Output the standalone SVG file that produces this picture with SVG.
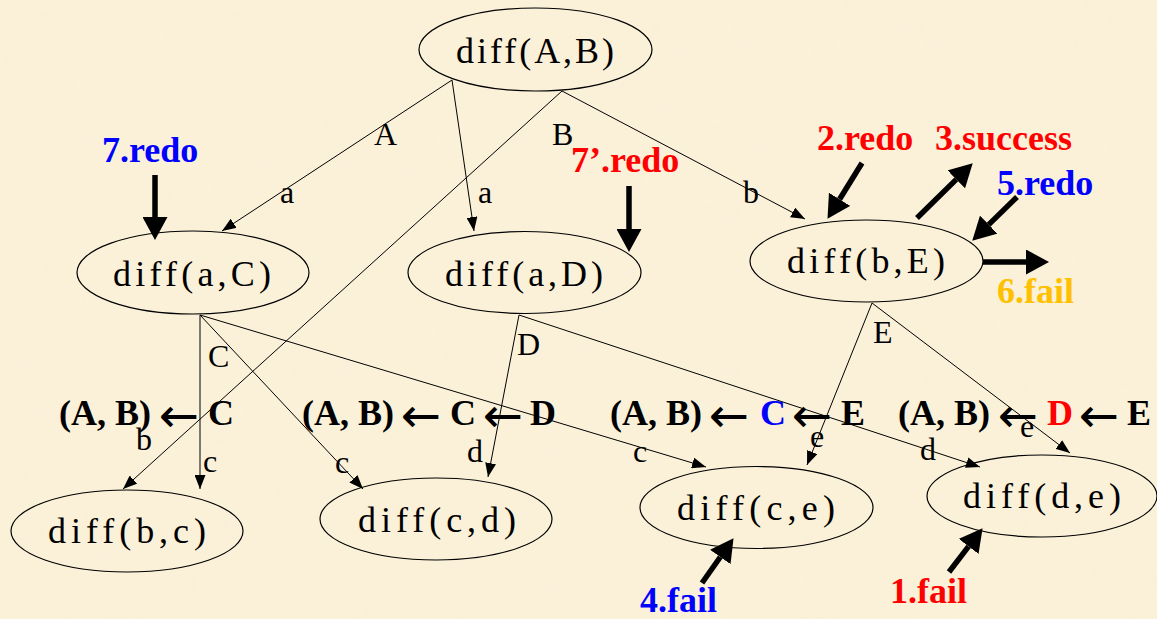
<svg xmlns="http://www.w3.org/2000/svg" width="1157" height="619" viewBox="0 0 1157 619">
<defs>
<style>
.bg{fill:#FBF1D9}
.node ellipse{fill:none;stroke:#000;stroke-width:1.2}
.node text{font-family:"Liberation Serif","Times New Roman",serif;font-size:36px;fill:#000}
.edge{stroke:#000;stroke-width:1;fill:none;marker-end:url(#thin)}
.lbl{font-family:"Liberation Serif","Times New Roman",serif;font-size:32px;fill:#000}
.bold{font-family:"Liberation Serif","Times New Roman",serif;font-size:36px;font-weight:bold;fill:#000}
.arr{font-family:"DejaVu Sans",sans-serif;font-size:48px;fill:#000}
.thick{stroke:#000;stroke-width:5.5;fill:none;marker-end:url(#thick)}
.red{fill:#FF0000}
.blue{fill:#0000FF}
.gold{fill:#FFC000}
</style>
<marker id="thin" markerUnits="userSpaceOnUse" markerWidth="14" markerHeight="11" viewBox="0 0 14 11" refX="14" refY="5.5" orient="auto">
<path d="M0,0 L14,5.5 L0,11 z" fill="#000"/>
</marker>
<marker id="thick" markerUnits="userSpaceOnUse" markerWidth="23" markerHeight="25" viewBox="0 0 23 25" refX="0" refY="12.5" orient="auto">
<path d="M0,0 L23,12.5 L0,25 z" fill="#000"/>
</marker>
<filter id="paper" x="0" y="0" width="100%" height="100%">
<feTurbulence type="fractalNoise" baseFrequency="0.025" numOctaves="3" seed="4" result="n"/>
<feColorMatrix type="matrix" values="0 0 0 0 0.94  0 0 0 0 0.87  0 0 0 0 0.70  0 0 0 -1.6 0.9" in="n"/>
</filter>
</defs>
<rect class="bg" x="0" y="0" width="1157" height="619"/>
<rect x="0" y="0" width="1157" height="619" filter="url(#paper)" opacity="0.3"/>

<g id="connectors">
<line class="edge" x1="452" y1="80" x2="222" y2="231"/>
<line class="edge" x1="452" y1="80" x2="474" y2="231"/>
<line class="edge" x1="562" y1="91" x2="123" y2="489"/>
<line class="edge" x1="562" y1="91" x2="805" y2="219"/>
<line class="edge" x1="200" y1="315" x2="200" y2="489"/>
<line class="edge" x1="200" y1="315" x2="363" y2="489"/>
<line class="edge" x1="200" y1="315" x2="706" y2="467"/>
<line class="edge" x1="519" y1="315" x2="488" y2="477"/>
<line class="edge" x1="519" y1="315" x2="980" y2="467"/>
<line class="edge" x1="872" y1="303" x2="807" y2="465"/>
<line class="edge" x1="872" y1="303" x2="1070" y2="453"/>
<text class="lbl" x="374" y="145">A</text>
<text class="lbl" x="280" y="203">a</text>
<text class="lbl" x="478" y="203">a</text>
<text class="lbl" x="552" y="145">B</text>
<text class="lbl" x="743" y="203">b</text>
<text class="lbl" x="208" y="367">C</text>
<text class="lbl" x="203" y="472">c</text>
<text class="lbl" x="136" y="450">b</text>
<text class="lbl" x="335" y="473">c</text>
<text class="lbl" x="517" y="355">D</text>
<text class="lbl" x="467" y="462">d</text>
<text class="lbl" x="633" y="462">c</text>
<text class="lbl" x="873" y="343">E</text>
<text class="lbl" x="810" y="447">e</text>
<text class="lbl" x="920" y="460">d</text>
<text class="lbl" x="1020" y="437">e</text>
</g>

<g id="n-AB" class="node"><ellipse cx="535.5" cy="49.5" rx="116.5" ry="41.5"/><text x="456" y="63" textLength="158" lengthAdjust="spacing">diff(A,B)</text></g>
<g id="n-aC" class="node"><ellipse cx="193" cy="272.5" rx="116" ry="41.5"/><text x="113" y="286" textLength="158" lengthAdjust="spacing">diff(a,C)</text></g>
<g id="n-aD" class="node"><ellipse cx="524.5" cy="272.5" rx="116.5" ry="41"/><text x="445" y="286" textLength="158" lengthAdjust="spacing">diff(a,D)</text></g>
<g id="n-bE" class="node"><ellipse cx="866.5" cy="261" rx="116.5" ry="41"/><text x="787" y="273" textLength="158" lengthAdjust="spacing">diff(b,E)</text></g>
<g id="n-bc" class="node"><ellipse cx="127" cy="531" rx="116" ry="41"/><text x="48" y="543" textLength="158" lengthAdjust="spacing">diff(b,c)</text></g>
<g id="n-cd" class="node"><ellipse cx="436" cy="519" rx="116" ry="41"/><text x="358" y="532" textLength="158" lengthAdjust="spacing">diff(c,d)</text></g>
<g id="n-ce" class="node"><ellipse cx="756.5" cy="507.5" rx="116.5" ry="41"/><text x="677" y="520" textLength="158" lengthAdjust="spacing">diff(c,e)</text></g>
<g id="n-de" class="node"><ellipse cx="1042" cy="496" rx="115" ry="41"/><text x="963" y="508" textLength="158" lengthAdjust="spacing">diff(d,e)</text></g>

<g id="row-labels">
<text class="bold" x="59" y="425">(A, B)</text><text class="arr" x="159" y="432">←</text><text class="bold" x="208" y="425">C</text>
<text class="bold" x="302" y="425">(A, B)</text><text class="arr" x="401" y="432">←</text><text class="bold" x="450" y="425">C</text><text class="arr" x="483" y="432">←</text><text class="bold" x="530" y="425">D</text>
<text class="bold" x="610" y="425">(A, B)</text><text class="arr" x="709" y="432">←</text><text class="bold blue" x="760" y="425">C</text><text class="arr" x="792" y="432">←</text><text class="bold" x="841" y="425">E</text>
<text class="bold" x="898" y="425">(A, B)</text><text class="arr" x="998" y="432">←</text><text class="bold red" x="1047" y="425">D</text><text class="arr" x="1079" y="432">←</text><text class="bold" x="1127" y="425">E</text>
</g>

<g id="annotations">
<text class="bold blue" x="102" y="162">7.redo</text>
<line class="thick" x1="155" y1="175" x2="155" y2="217"/>
<text class="bold red" x="571" y="172">7’.redo</text>
<line class="thick" x1="629" y1="186" x2="629" y2="229"/>
<text class="bold red" x="817" y="150">2.redo</text>
<line class="thick" x1="862" y1="163" x2="839.6" y2="199.3"/>
<text class="bold red" x="935" y="150">3.success</text>
<line class="thick" x1="917" y1="218" x2="956.3" y2="179.4"/>
<text class="bold blue" x="997" y="195">5.redo</text>
<line class="thick" x1="1017" y1="197" x2="988.7" y2="224.6"/>
<line class="thick" x1="983" y1="262" x2="1026" y2="262"/>
<text class="bold gold" x="997" y="303">6.fail</text>
<line class="thick" x1="702" y1="583" x2="720.3" y2="557"/>
<text class="bold blue" x="640" y="612">4.fail</text>
<line class="thick" x1="949" y1="572" x2="968.6" y2="546.4"/>
<text class="bold red" x="890" y="603">1.fail</text>
</g>
</svg>
